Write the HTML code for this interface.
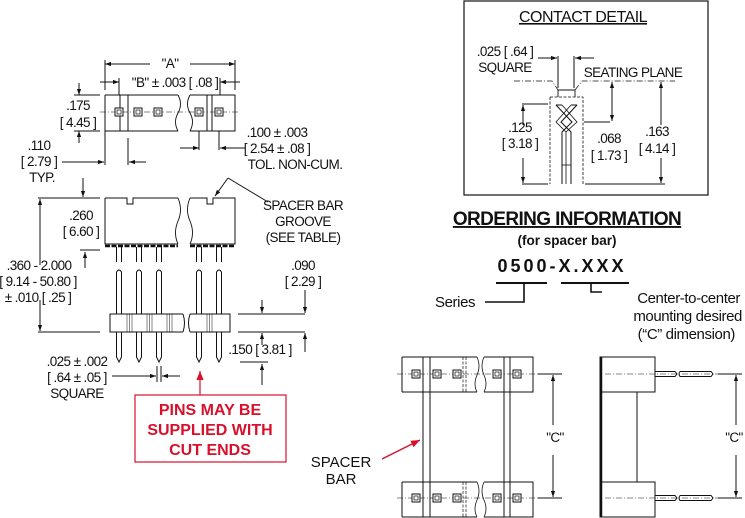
<!DOCTYPE html>
<html><head><meta charset="utf-8"><style>
html,body{margin:0;padding:0;background:#fff;}
svg{display:block;}
.t{font-family:"Liberation Sans Narrow","Liberation Sans",sans-serif;font-size:13.5px;fill:#111;letter-spacing:-0.6px;}
.h{font-family:"Liberation Sans",sans-serif;fill:#111;}
.r{font-family:"Liberation Sans",sans-serif;font-weight:bold;font-size:16px;fill:#d8102c;}
</style></head><body>
<svg width="745" height="518" viewBox="0 0 745 518" xmlns="http://www.w3.org/2000/svg">
<defs>
<marker id="a" viewBox="0 0 10 10" refX="10" refY="5" markerWidth="9" markerHeight="6" orient="auto-start-reverse" markerUnits="userSpaceOnUse"><path d="M0,1.5 L10,5 L0,8.5z" fill="#111"/></marker>
<marker id="ra" viewBox="0 0 10 10" refX="10" refY="5" markerWidth="12" markerHeight="9" orient="auto" markerUnits="userSpaceOnUse"><path d="M0,1 L10,5 L0,9z" fill="#d8102c"/></marker>
<g id="sq"><rect x="-4" y="-4" width="8" height="8" fill="#fff" stroke="#111" stroke-width="1"/><rect x="-2" y="-2" width="4" height="4" fill="none" stroke="#111" stroke-width=".7"/></g>
</defs>
<g stroke="#111" stroke-width="1" fill="none">
<path d="M105,95 H178 M105,131 H178 M105,95 V131 M190,95 H235 V131 H190"/>
<path d="M178,95 q5,9 0,18 q-5,9 0,18 M190,95 q-5,9 0,18 q5,9 0,18" stroke-width=".9"/>
<path d="M120,95 V131 M128,95 V131 M207,95 V131 M212,95 V131"/>
<path d="M100,112 H240" stroke-dasharray="6,2,1,2" stroke-width=".6"/>
<path d="M105,60 V90 M235,60 V90"/>
<path d="M150,64 H105" marker-end="url(#a)"/><path d="M190,64 H235" marker-end="url(#a)"/>
<path d="M100,82 H119" marker-end="url(#a)"/><path d="M240,82 H220" marker-end="url(#a)"/>
<path d="M119,78 V95 M220,78 V95"/>
<path d="M79,83 V95" marker-end="url(#a)"/><path d="M79,143 V131" marker-end="url(#a)"/>
<path d="M74,95 H100 M74,131 H100"/>
<path d="M199,131 V150 M219,131 V150"/>
<path d="M180,148 H199" marker-end="url(#a)"/><path d="M245,148 H220" marker-end="url(#a)"/>
<path d="M105,131 V165 M128,138 V165"/>
<path d="M62,162 H104" marker-end="url(#a)"/><path d="M146,162 H129" marker-end="url(#a)"/>
<path d="M105,198 H127 V204 H133 V198 H178 M105,198 V244 H178 M190,198 H207 V204 H213 V198 H235 V244 H190"/>
<path d="M178,198 q5,12 0,23 q-5,12 0,23 M190,198 q-5,12 0,23 q5,12 0,23" stroke-width=".9"/>
<path d="M105,246 H178 M190,246 H235" stroke-width="2.5" stroke-dasharray="5,1.5"/>
<g stroke-width="1">
<path d="M116.5,247 V262 M121.5,247 V262 M116.5,272 V314 M121.5,272 V314 M116.5,332 V357 L119,362 L121.5,357 V332"/>
<path d="M136.5,247 V262 M141.5,247 V262 M136.5,272 V314 M141.5,272 V314 M136.5,332 V357 L139,362 L141.5,357 V332"/>
<path d="M156.5,247 V262 M161.5,247 V262 M156.5,272 V314 M161.5,272 V314 M156.5,332 V357 L159,362 L161.5,357 V332"/>
<path d="M196.5,247 V262 M201.5,247 V262 M196.5,272 V314 M201.5,272 V314 M196.5,332 V357 L199,362 L201.5,357 V332"/>
<path d="M216.5,247 V262 M221.5,247 V262 M216.5,272 V314 M221.5,272 V314 M216.5,332 V357 L219,362 L221.5,357 V332"/>
<path d="M116.5,272 Q119,268 121.5,272 M136.5,272 Q139,268 141.5,272 M156.5,272 Q159,268 161.5,272 M196.5,272 Q199,268 201.5,272 M216.5,272 Q219,268 221.5,272"/>
</g>
<path d="M183,314 H110 V332 H183 M190,314 H230 V332 H190" fill="#fff"/>
<path d="M183,314 q3,9 0,18 M190,314 q-3,9 0,18"/>
<path d="M127,314 V332 M129.5,314 V332 M132,314 V332 M147,314 V332 M149.5,314 V332 M152,314 V332 M167,314 V332 M169.5,314 V332 M172,314 V332 M207,314 V332 M209.5,314 V332 M212,314 V332" stroke-width=".5"/>
<path d="M83,178 V197" marker-end="url(#a)"/>
<path d="M38,198 H100 M38,332 H100"/>
<path d="M40,265 V199" marker-end="url(#a)"/><path d="M40,300 V331" marker-end="url(#a)"/>
<path d="M85,268 V252" marker-end="url(#a)"/><path d="M80,250 H100"/>
<path d="M238,314 H305 M238,332 H305"/>
<path d="M305,290 V313" marker-end="url(#a)"/><path d="M305,352 V333" marker-end="url(#a)"/>
<path d="M262,300 V313" marker-end="url(#a)"/><path d="M262,345 V333" marker-end="url(#a)"/>
<path d="M262,385 V364" marker-end="url(#a)"/><path d="M240,362 H268"/>
<path d="M112,376 H156" marker-end="url(#a)"/><path d="M180,376 H162" marker-end="url(#a)"/>
<path d="M157,366 V382 M161,366 V382"/>
<path d="M228,178 L268,202"/><path d="M228,178 L215,196" marker-end="url(#a)"/>
<rect x="464" y="1" width="244" height="194" stroke-width="1.2"/>
<path d="M514,81 H552 L558,90 M575,90 L582,81 H675" stroke-dasharray="6,2,1,2" stroke-width=".7"/>
<path d="M558,90 H575 M558,90 V97 M575,90 V97" stroke-width=".9"/>
<path d="M550,97 H583 V184 M550,97 V184" stroke-dasharray="3,1.5" stroke-width=".8"/>
<path d="M556,105 L572,122 L562,132 V184 M577,105 L561,122 L571,132 V184"/>
<path d="M562,105 L577,122 L566,132 V184 M571,105 L556,122 L566,132" stroke-width=".8"/>
<path d="M556,105 L562,105 M571,105 L577,105"/>
<path d="M562,165 H571" stroke-width=".8"/>
<path d="M558,56 V88 M574,56 V88"/>
<path d="M538,58 H557" marker-end="url(#a)"/><path d="M594,58 H575" marker-end="url(#a)"/>
<path d="M522,104 H548 M522,184 H548"/>
<path d="M523,125 V105" marker-end="url(#a)"/><path d="M523,158 V183" marker-end="url(#a)"/>
<path d="M584,122 H610"/>
<path d="M612,100 V82" marker-end="url(#a)"/><path d="M612,100 V121" marker-end="url(#a)"/>
<path d="M585,184 H665"/>
<path d="M661,125 V82" marker-end="url(#a)"/><path d="M661,158 V183" marker-end="url(#a)"/>
<path d="M496,283 H547 M561,283 H629" stroke-width="2"/>
<path d="M524,283 V302 H485 M591,283 V292 H602" stroke-width="1.6"/>
<path d="M402,357 H477 M402,392 H477 M402,357 V392 M484,357 H533 V392 H484"/>
<path d="M402,482 H477 M402,517 H477 M402,482 V517 M484,482 H533 V517 H484"/>
<path d="M477,357 q4,9 0,18 q-4,9 0,17 M484,357 q-4,9 0,18 q4,9 0,17 M477,482 q4,9 0,18 q-4,9 0,17 M484,482 q-4,9 0,18 q4,9 0,17" stroke-width=".8"/>
<path d="M463,357 V392 M466,357 V392 M463,482 V517 M466,482 V517" stroke-dasharray="3,1.5" stroke-width=".7"/>
<path d="M423,357 V517 M430,357 V517 M504,357 V517 M510,357 V517"/>
<path d="M397,374 H547 M397,498 H547" stroke-dasharray="6,2,1,2" stroke-width=".6"/>
<path d="M538,374 H562 M538,498 H562"/>
<path d="M553,425 V375" marker-end="url(#a)"/><path d="M553,455 V497" marker-end="url(#a)"/>
<path d="M600,357 H655 V392 H600 Z M600,482 H655 V517 H600 Z"/>
<path d="M601,357 V517" stroke-width="2.5"/>
<path d="M600,392 V482 M637,392 V482"/>
<path d="M655,371.5 H675 L677,374 L675,376.5 H655 M680,371.5 H711 L713,374 L711,376.5 H680 Q678,374 680,371.5"/>
<path d="M655,495.5 H675 L677,498 L675,500.5 H655 M680,495.5 H711 L713,498 L711,500.5 H680 Q678,498 680,495.5"/>
<path d="M605,374 H718 M605,498 H718" stroke-dasharray="6,2,1,2" stroke-width=".6"/>
<path d="M718,374 H742 M718,498 H742"/>
<path d="M736,425 V375" marker-end="url(#a)"/><path d="M736,455 V497" marker-end="url(#a)"/>
</g>
<use href="#sq" x="119" y="112"/><use href="#sq" x="138" y="112"/><use href="#sq" x="158" y="112"/><use href="#sq" x="199" y="112"/><use href="#sq" x="219" y="112"/>
<use href="#sq" x="416" y="374"/><use href="#sq" x="437" y="374"/><use href="#sq" x="457" y="374"/><use href="#sq" x="497" y="374"/><use href="#sq" x="517" y="374"/>
<use href="#sq" x="416" y="498"/><use href="#sq" x="437" y="498"/><use href="#sq" x="457" y="498"/><use href="#sq" x="497" y="498"/><use href="#sq" x="517" y="498"/>
<path d="M200,395 V371" stroke="#d8102c" stroke-width="1.2" fill="none" marker-end="url(#ra)"/>
<rect x="135" y="395" width="151" height="67" fill="none" stroke="#d8102c" stroke-width="1.2"/>
<text class="r" x="210" y="415" text-anchor="middle">PINS MAY BE</text>
<text class="r" x="210" y="435" text-anchor="middle">SUPPLIED WITH</text>
<text class="r" x="210" y="455" text-anchor="middle">CUT ENDS</text>
<path d="M382,459 L420,440" stroke="#d8102c" stroke-width="1.4" fill="none" marker-end="url(#ra)"/>
<g class="t">
<text x="170" y="68" text-anchor="middle">"A"</text>
<text x="175" y="87" text-anchor="middle">"B" ± .003 [ .08 ]</text>
<text x="78" y="110" text-anchor="middle">.175</text>
<text x="78" y="127" text-anchor="middle">[ 4.45 ]</text>
<text x="277" y="137" text-anchor="middle">.100 ± .003</text>
<text x="277" y="153" text-anchor="middle">[ 2.54 ± .08 ]</text>
<text x="295" y="169" text-anchor="middle">TOL. NON-CUM.</text>
<text x="39" y="150" text-anchor="middle">.110</text>
<text x="39" y="166" text-anchor="middle">[ 2.79 ]</text>
<text x="42" y="182" text-anchor="middle">TYP.</text>
<text x="81" y="220" text-anchor="middle">.260</text>
<text x="81" y="236" text-anchor="middle">[ 6.60 ]</text>
<text x="303" y="210" text-anchor="middle">SPACER BAR</text>
<text x="303" y="226" text-anchor="middle">GROOVE</text>
<text x="303" y="242" text-anchor="middle">(SEE TABLE)</text>
<text x="39" y="270" text-anchor="middle">.360 - 2.000</text>
<text x="38" y="286" text-anchor="middle">[ 9.14 - 50.80 ]</text>
<text x="38" y="302" text-anchor="middle">± .010 [ .25 ]</text>
<text x="303" y="270" text-anchor="middle">.090</text>
<text x="303" y="286" text-anchor="middle">[ 2.29 ]</text>
<text x="260" y="354" text-anchor="middle">.150 [ 3.81 ]</text>
<text x="77" y="366" text-anchor="middle">.025 ± .002</text>
<text x="77" y="382" text-anchor="middle">[ .64 ± .05 ]</text>
<text x="77" y="398" text-anchor="middle">SQUARE</text>
<text x="505" y="56" text-anchor="middle">.025 [ .64 ]</text>
<text x="505" y="72" text-anchor="middle">SQUARE</text>
<text x="633" y="77" text-anchor="middle">SEATING PLANE</text>
<text x="520" y="132" text-anchor="middle">.125</text>
<text x="520" y="148" text-anchor="middle">[ 3.18 ]</text>
<text x="609" y="143" text-anchor="middle">.068</text>
<text x="609" y="160" text-anchor="middle">[ 1.73 ]</text>
<text x="657" y="136" text-anchor="middle">.163</text>
<text x="657" y="153" text-anchor="middle">[ 4.14 ]</text>
<text x="555" y="442" text-anchor="middle">"C"</text>
<text x="734" y="442" text-anchor="middle">"C"</text>
</g>
<text class="h" x="583" y="22" font-size="16" text-anchor="middle" text-decoration="underline" letter-spacing="-0.5">CONTACT DETAIL</text>
<text class="h" x="567" y="225" font-size="19" font-weight="bold" text-anchor="middle" text-decoration="underline" letter-spacing="-0.6">ORDERING INFORMATION</text>
<text class="h" x="567" y="245" font-size="13.5" font-weight="bold" text-anchor="middle">(for spacer bar)</text>
<text class="h" x="562" y="272" font-size="18" font-weight="bold" text-anchor="middle" letter-spacing="3">0500-X.XXX</text>
<text class="h" x="435" y="307" font-size="15" letter-spacing="-0.4">Series</text>
<text class="h" x="740" y="303" font-size="15" text-anchor="end" letter-spacing="-0.4">Center-to-center</text>
<text class="h" x="742" y="321" font-size="15" text-anchor="end" letter-spacing="-0.4">mounting desired</text>
<text class="h" x="735" y="339" font-size="15" text-anchor="end" letter-spacing="-0.4">(“C” dimension)</text>
<text class="h" x="341" y="467" font-size="15" text-anchor="middle">SPACER</text>
<text class="h" x="341" y="484" font-size="15" text-anchor="middle">BAR</text>
</svg>
</body></html>
